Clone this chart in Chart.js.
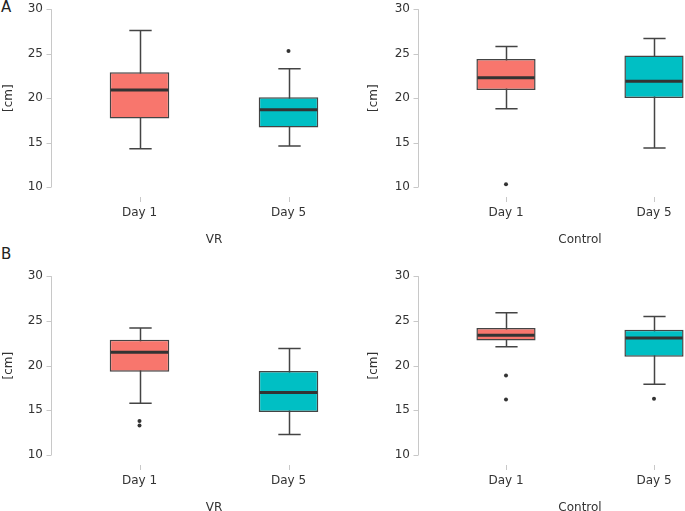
<!DOCTYPE html>
<html>
<head>
<meta charset="utf-8">
<script src="https://cdn.jsdelivr.net/npm/chart.js@4"></script>
<style>
  html, body { margin: 0; padding: 0; background: #fff; overflow: hidden; }
  body { width: 685px; height: 511px; position: relative; font-family: "DejaVu Sans", sans-serif; }
  canvas { position: absolute; }
  .tag { position: absolute; font-size: 15px; line-height: 15px; color: #222; }
</style>
</head>
<body>
<div class="tag" style="left:1px; top:0px;">A</div>
<div class="tag" style="left:1px; top:247px;">B</div>
<canvas id="chart_a_vr" width="370" height="270" style="left:0px; top:-20px;"></canvas>
<canvas id="chart_a_ctrl" width="370" height="270" style="left:365px; top:-20px;"></canvas>
<canvas id="chart_b_vr" width="370" height="271" style="left:0px; top:247px;"></canvas>
<canvas id="chart_b_ctrl" width="370" height="271" style="left:365px; top:247px;"></canvas>
<script>
const categories = ["Day 1", "Day 5"];
const y_ticks = [10, 15, 20, 25, 30];
const box_colors = ["#F8766D", "#00BFC4"];

// A - VR
const a_vr_min = [14.3, 14.6];
const a_vr_q1 = [17.7, 16.7];
const a_vr_median = [20.9, 18.7];
const a_vr_q3 = [22.9, 20.1];
const a_vr_max = [27.6, 23.3];
const a_vr_outliers = [[], [25.3]];

// A - Control
const a_ctrl_min = [18.8, 14.4];
const a_ctrl_q1 = [20.9, 20.0];
const a_ctrl_median = [22.3, 21.9];
const a_ctrl_q3 = [24.4, 24.8];
const a_ctrl_max = [25.8, 26.7];
const a_ctrl_outliers = [[10.3], []];

// B - VR
const b_vr_min = [15.8, 12.3];
const b_vr_q1 = [19.3, 14.8];
const b_vr_median = [21.5, 17.0];
const b_vr_q3 = [22.9, 19.4];
const b_vr_max = [24.2, 21.9];
const b_vr_outliers = [[13.3, 13.8], []];

// B - Control
const b_ctrl_min = [22.1, 17.9];
const b_ctrl_q1 = [22.8, 21.0];
const b_ctrl_median = [23.4, 23.1];
const b_ctrl_q3 = [24.2, 24.0];
const b_ctrl_max = [25.9, 25.5];
const b_ctrl_outliers = [[18.9, 16.2], [16.3]];

// whiskers, medians and the detached axis lines
const boxplot_plugin = {
  id: "boxplot_extras",
  beforeDatasetsDraw(chart) {
    const ctx = chart.ctx;
    const x = chart.scales.x;
    const y = chart.scales.y;
    const st = chart.options.plugins.boxplot_extras;
    const cap = (x.getPixelForValue(1) - x.getPixelForValue(0)) * 0.075;
    ctx.save();
    ctx.strokeStyle = "#444";
    ctx.lineWidth = 1.5;
    categories.forEach(function (c, i) {
      const px = Math.round(x.getPixelForValue(i)) + 0.5;
      const lo = y.getPixelForValue(st.min[i]);
      const hi = y.getPixelForValue(st.max[i]);
      ctx.beginPath();
      ctx.moveTo(px, lo);
      ctx.lineTo(px, hi);
      ctx.moveTo(px - cap, lo);
      ctx.lineTo(px + cap, lo);
      ctx.moveTo(px - cap, hi);
      ctx.lineTo(px + cap, hi);
      ctx.stroke();
    });
    ctx.restore();
  },
  afterDatasetsDraw(chart) {
    const ctx = chart.ctx;
    const x = chart.scales.x;
    const y = chart.scales.y;
    const st = chart.options.plugins.boxplot_extras;
    const bars = chart.getDatasetMeta(0).data;
    ctx.save();
    ctx.strokeStyle = "#333";
    ctx.lineWidth = 3;
    categories.forEach(function (c, i) {
      const half = bars[i].width / 2;
      const px = x.getPixelForValue(i);
      const py = y.getPixelForValue(st.median[i]);
      ctx.beginPath();
      ctx.moveTo(px - half + 1, py);
      ctx.lineTo(px + half - 1, py);
      ctx.stroke();
    });

    // y axis line + ticks
    const ax = Math.round(chart.chartArea.left - 14) + 0.5;
    ctx.strokeStyle = "#c8c8c8";
    ctx.lineWidth = 1;
    ctx.beginPath();
    ctx.moveTo(ax, y.getPixelForValue(y_ticks[0]));
    ctx.lineTo(ax, y.getPixelForValue(y_ticks[y_ticks.length - 1]));
    y_ticks.forEach(function (t) {
      const ty = Math.round(y.getPixelForValue(t)) + 0.5;
      ctx.moveTo(ax - 5, ty);
      ctx.lineTo(ax, ty);
    });
    // x ticks
    const bottom = chart.chartArea.bottom;
    categories.forEach(function (c, i) {
      const px = Math.round(x.getPixelForValue(i)) + 0.5;
      ctx.moveTo(px, bottom + 10);
      ctx.lineTo(px, bottom + 15);
    });
    ctx.stroke();
    ctx.restore();
  },
};

function make_chart(canvas_id, group_name, y_width, st) {
  const outlier_points = [];
  st.outliers.forEach(function (list, i) {
    list.forEach(function (v) {
      outlier_points.push({ x: categories[i], y: v });
    });
  });
  const ctx = document.getElementById(canvas_id).getContext("2d");
  return new Chart(ctx, {
    type: "bar",
    data: {
      labels: categories,
      datasets: [
        {
          type: "bar",
          data: categories.map(function (c, i) { return [st.q1[i], st.q3[i]]; }),
          backgroundColor: box_colors,
          borderColor: "#444",
          borderWidth: 1.5,
          borderSkipped: false,
          barPercentage: 0.4,
          categoryPercentage: 1,
        },
        {
          type: "line",
          data: outlier_points,
          showLine: false,
          pointRadius: 2,
          pointBorderWidth: 0,
          pointBackgroundColor: "#333",
          pointBorderColor: "#333",
        },
      ],
    },
    options: {
      responsive: false,
      animation: false,
      layout: { padding: { top: 26, right: 7, left: 0, bottom: 0 } },
      plugins: {
        legend: { display: false },
        tooltip: { enabled: false },
        boxplot_extras: st,
      },
      scales: {
        x: {
          type: "category",
          offset: true,
          grid: { display: false, drawTicks: false },
          border: { display: false },
          ticks: { padding: 19, color: "#333", font: { family: "DejaVu Sans", size: 12 } },
          title: {
            display: true,
            text: group_name,
            color: "#333",
            padding: { top: 0, bottom: 3 },
            font: { family: "DejaVu Sans", size: 12 },
          },
          afterFit: function (scale) { scale.height = 63; },
        },
        y: {
          min: 10,
          max: 30,
          grid: { display: false, drawTicks: false },
          border: { display: false },
          ticks: {
            stepSize: 5,
            padding: 22,
            color: "#333",
            font: { family: "DejaVu Sans", size: 12 },
          },
          title: {
            display: true,
            text: "[cm]",
            color: "#333",
            padding: { top: 2, bottom: 0 },
            font: { family: "DejaVu Sans", size: 12 },
          },
          afterFit: function (scale) { scale.width = y_width; },
        },
      },
    },
    plugins: [boxplot_plugin],
  });
}

make_chart("chart_a_vr", "VR", 65, {
  min: a_vr_min, q1: a_vr_q1, median: a_vr_median, q3: a_vr_q3, max: a_vr_max, outliers: a_vr_outliers,
});
make_chart("chart_a_ctrl", "Control", 67, {
  min: a_ctrl_min, q1: a_ctrl_q1, median: a_ctrl_median, q3: a_ctrl_q3, max: a_ctrl_max, outliers: a_ctrl_outliers,
});
make_chart("chart_b_vr", "VR", 65, {
  min: b_vr_min, q1: b_vr_q1, median: b_vr_median, q3: b_vr_q3, max: b_vr_max, outliers: b_vr_outliers,
});
make_chart("chart_b_ctrl", "Control", 67, {
  min: b_ctrl_min, q1: b_ctrl_q1, median: b_ctrl_median, q3: b_ctrl_q3, max: b_ctrl_max, outliers: b_ctrl_outliers,
});
</script>
</body>
</html>
